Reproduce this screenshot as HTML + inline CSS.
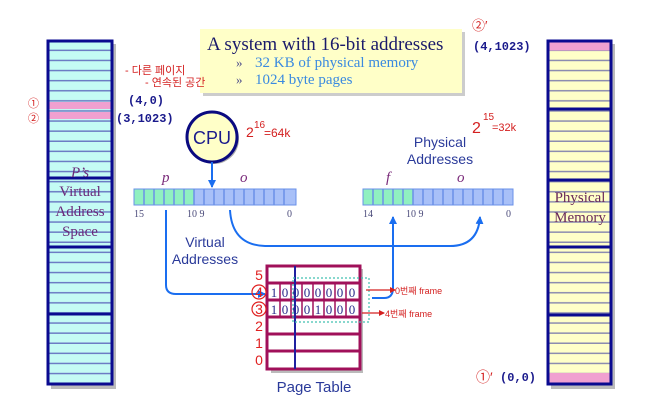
<!DOCTYPE html>
<html><head><meta charset="utf-8"><style>
body{margin:0;background:#fff;width:655px;height:406px;overflow:hidden}
svg{display:block}
.mono{font-family:"Liberation Mono",monospace;font-weight:bold;fill:#1a1a8c;font-size:12px}
.serif{font-family:"Liberation Serif",serif}
.sans{font-family:"Liberation Sans",sans-serif}
.red{font-family:"Liberation Sans","Noto Sans CJK KR",sans-serif;fill:#d42020}
</style></head><body>
<svg width="655" height="406" viewBox="0 0 655 406" xmlns="http://www.w3.org/2000/svg">
<defs>
<pattern id="pc" x="0" y="41" width="10" height="10.1" patternUnits="userSpaceOnUse">
<rect width="10" height="10.1" fill="#c4fbf4"/><rect y="8.6" width="10" height="1.5" fill="#6c7cc4"/></pattern>
<pattern id="py" x="0" y="41" width="10" height="10.1" patternUnits="userSpaceOnUse">
<rect width="10" height="10.1" fill="#ffffc8"/><rect y="8.6" width="10" height="1.5" fill="#8c8cb0"/></pattern>
<marker id="ah" markerWidth="8" markerHeight="8" refX="7" refY="4" orient="auto" markerUnits="userSpaceOnUse"><path d="M0,0 L8,4 L0,8z" fill="#1a6ef0"/></marker>
<marker id="rh" markerWidth="6" markerHeight="6" refX="5" refY="3" orient="auto" markerUnits="userSpaceOnUse"><path d="M0,0 L6,3 L0,6z" fill="#d42020"/></marker>
</defs>

<!-- left bar -->
<rect x="51" y="44" width="65" height="345" fill="#bbb"/>
<rect x="48" y="41" width="64" height="343" fill="url(#pc)" stroke="#0a0a90" stroke-width="3"/>
<rect x="49.5" y="102" width="61" height="7" fill="#f0a0d0"/>
<rect x="49.5" y="112" width="61" height="7" fill="#f0a0d0"/>
<g stroke="#0a0a90" stroke-width="3"><line x1="48" y1="178" x2="112" y2="178"/><line x1="48" y1="247" x2="112" y2="247"/><line x1="48" y1="314" x2="112" y2="314"/></g>
<g class="serif" fill="#6a2a7a" font-size="15" text-anchor="middle">
<text x="80" y="177" font-style="italic">P’s</text><text x="80" y="196">Virtual</text><text x="80" y="216">Address</text><text x="80" y="236">Space</text></g>

<!-- right bar -->
<rect x="551" y="44" width="64" height="345" fill="#bbb"/>
<rect x="548" y="41" width="63" height="343" fill="url(#py)" stroke="#0a0a90" stroke-width="3"/>
<rect x="549.5" y="42.5" width="60" height="8" fill="#f0a0d0"/>
<rect x="549.5" y="373" width="60" height="9.5" fill="#f0a0d0"/>
<g stroke="#0a0a90" stroke-width="3"><line x1="548" y1="109" x2="611" y2="109"/><line x1="548" y1="180" x2="611" y2="180"/><line x1="548" y1="247" x2="611" y2="247"/><line x1="548" y1="315" x2="611" y2="315"/></g>
<g class="serif" fill="#6a2a5a" font-size="15" text-anchor="middle">
<text x="580" y="202">Physical</text><text x="580" y="222">Memory</text></g>

<!-- title box -->
<rect x="203" y="32" width="262" height="64" fill="#ccc"/>
<rect x="200" y="29" width="262" height="64" fill="#ffffc8"/>
<text x="207" y="50" class="serif" font-size="19" fill="#1a1a6a">A system with 16-bit addresses</text>
<text x="236" y="67" class="serif" font-size="13" fill="#4a4a8a">»</text>
<text x="255" y="67" class="serif" font-size="15" fill="#3a8ae0">32 KB of physical memory</text>
<text x="236" y="84" class="serif" font-size="13" fill="#4a4a8a">»</text>
<text x="255" y="84" class="serif" font-size="15" fill="#3a8ae0">1024 byte pages</text>

<!-- coords -->
<text x="128" y="104" class="mono">(4,0)</text>
<text x="116" y="122" class="mono">(3,1023)</text>
<text x="473" y="50" class="mono">(4,1023)</text>
<text x="500" y="381" class="mono" font-size="11">(0,0)</text>

<!-- handwriting -->
<text x="125" y="74" class="red" font-size="11">- 다른 페이지</text>
<text x="145" y="86" class="red" font-size="11">- 연속된 공간</text>
<text x="28" y="107" class="red" font-size="11">①</text>
<text x="28" y="122" class="red" font-size="11">②</text>
<text x="246" y="137" class="red" font-size="14">2</text><text x="254" y="128" class="red" font-size="10">16</text><text x="264" y="137" class="red" font-size="12">=64k</text>
<text x="472" y="133" class="red" font-size="16">2</text><text x="483" y="120" class="red" font-size="10">15</text><text x="492" y="131" class="red" font-size="11">=32k</text>
<text x="472" y="30" class="red" font-size="13">②′</text>
<text x="476" y="382" class="red" font-size="14">①′</text>
<text x="395" y="294" class="red" font-size="9">0번째 frame</text>
<text x="385" y="317" class="red" font-size="9">4번째 frame</text>

<!-- CPU -->
<circle cx="214" cy="139" r="25" fill="#aaa"/>
<circle cx="212" cy="137" r="25" fill="#ffffc8" stroke="#0a0a80" stroke-width="3"/>
<text x="212" y="144" class="sans" font-size="18" text-anchor="middle" fill="#1a1a8c">CPU</text>
<line x1="212" y1="162" x2="212" y2="187" stroke="#1a6ef0" stroke-width="2" marker-end="url(#ah)"/>

<!-- virtual bar -->
<rect x="134" y="189" width="162" height="16" fill="#a8c0f8" stroke="#6a90e8"/>
<rect x="134" y="189" width="60" height="16" fill="#90f0c0" stroke="#6a90e8"/>
<g stroke="#6a90e8" stroke-width="1.5">
<line x1="144" y1="189" x2="144" y2="205"/><line x1="154" y1="189" x2="154" y2="205"/><line x1="164" y1="189" x2="164" y2="205"/><line x1="174" y1="189" x2="174" y2="205"/><line x1="184" y1="189" x2="184" y2="205"/><line x1="194" y1="189" x2="194" y2="205"/><line x1="204" y1="189" x2="204" y2="205"/><line x1="214" y1="189" x2="214" y2="205"/><line x1="224" y1="189" x2="224" y2="205"/><line x1="234" y1="189" x2="234" y2="205"/><line x1="244" y1="189" x2="244" y2="205"/><line x1="254" y1="189" x2="254" y2="205"/><line x1="264" y1="189" x2="264" y2="205"/><line x1="274" y1="189" x2="274" y2="205"/><line x1="284" y1="189" x2="284" y2="205"/></g>
<g class="serif" font-size="10" fill="#4a4a7a"><text x="134" y="217">15</text><text x="187" y="217">10 9</text><text x="287" y="217">0</text></g>
<g class="serif" font-size="15" font-style="italic" fill="#7a2a7a"><text x="162" y="182">p</text><text x="240" y="182">o</text></g>
<text x="205" y="247" class="sans" font-size="14" text-anchor="middle" fill="#2a3a9a">Virtual</text>
<text x="205" y="264" class="sans" font-size="14" text-anchor="middle" fill="#2a3a9a">Addresses</text>

<!-- physical bar -->
<rect x="363" y="189" width="150" height="16" fill="#a8c0f8" stroke="#6a90e8"/>
<rect x="363" y="189" width="50" height="16" fill="#90f0c0" stroke="#6a90e8"/>
<g stroke="#6a90e8" stroke-width="1.5">
<line x1="373" y1="189" x2="373" y2="205"/><line x1="383" y1="189" x2="383" y2="205"/><line x1="393" y1="189" x2="393" y2="205"/><line x1="403" y1="189" x2="403" y2="205"/><line x1="413" y1="189" x2="413" y2="205"/><line x1="423" y1="189" x2="423" y2="205"/><line x1="433" y1="189" x2="433" y2="205"/><line x1="443" y1="189" x2="443" y2="205"/><line x1="453" y1="189" x2="453" y2="205"/><line x1="463" y1="189" x2="463" y2="205"/><line x1="473" y1="189" x2="473" y2="205"/><line x1="483" y1="189" x2="483" y2="205"/><line x1="493" y1="189" x2="493" y2="205"/><line x1="503" y1="189" x2="503" y2="205"/></g>
<g class="serif" font-size="10" fill="#4a4a7a"><text x="363" y="217">14</text><text x="406" y="217">10 9</text><text x="506" y="217">0</text></g>
<g class="serif" font-size="15" font-style="italic" fill="#7a2a7a"><text x="386" y="182">f</text><text x="457" y="182">o</text></g>
<text x="440" y="147" class="sans" font-size="14" text-anchor="middle" fill="#2a3a9a">Physical</text>
<text x="440" y="164" class="sans" font-size="14" text-anchor="middle" fill="#2a3a9a">Addresses</text>

<!-- arrows -->
<path d="M166,210 L166,285 Q166,294 176,294 L265,294" fill="none" stroke="#1a6ef0" stroke-width="2" marker-end="url(#ah)"/>
<path d="M230,210 Q232,245 265,246 L450,246 Q478,246 480,217" fill="none" stroke="#1a6ef0" stroke-width="2" marker-end="url(#ah)"/>
<path d="M372,298 L384,298 Q393,298 393,288 L393,217" fill="none" stroke="#1a6ef0" stroke-width="2" marker-end="url(#ah)"/>

<!-- page table -->
<rect x="271" y="269" width="92" height="104" fill="#bbb"/>
<rect x="267" y="266" width="93" height="103" fill="#fff" stroke="#a0105a" stroke-width="3"/>
<g stroke="#a0105a" stroke-width="3"><line x1="267" y1="283" x2="360" y2="283"/><line x1="267" y1="300" x2="360" y2="300"/><line x1="267" y1="317" x2="360" y2="317"/><line x1="267" y1="334" x2="360" y2="334"/><line x1="267" y1="351" x2="360" y2="351"/></g>
<g stroke="#a0105a" stroke-width="1.5"><line x1="280" y1="283" x2="280" y2="317"/><line x1="291" y1="283" x2="291" y2="317"/><line x1="302" y1="283" x2="302" y2="317"/><line x1="313" y1="283" x2="313" y2="317"/><line x1="324" y1="283" x2="324" y2="317"/><line x1="335" y1="283" x2="335" y2="317"/><line x1="346" y1="283" x2="346" y2="317"/></g>
<line x1="295" y1="266" x2="295" y2="369" stroke="#2020a0" stroke-width="2"/>
<rect x="293" y="278" width="76" height="44" fill="none" stroke="#40c0b0" stroke-width="1.2" stroke-dasharray="2,2"/>
<g class="serif" font-size="13" fill="#2a2a8a" text-anchor="middle">
<text x="274" y="297">1</text><text x="285" y="297">0</text><text x="296" y="297">0</text><text x="307" y="297">0</text><text x="318" y="297">0</text><text x="329" y="297">0</text><text x="340" y="297">0</text><text x="352" y="297">0</text>
<text x="274" y="314">1</text><text x="285" y="314">0</text><text x="296" y="314">0</text><text x="307" y="314">0</text><text x="318" y="314">1</text><text x="329" y="314">0</text><text x="340" y="314">0</text><text x="352" y="314">0</text></g>
<g class="sans" font-size="14" fill="#e02020" text-anchor="middle">
<text x="259" y="280">5</text><text x="259" y="297">4</text><text x="259" y="314">3</text><text x="259" y="331">2</text><text x="259" y="348">1</text><text x="259" y="365">0</text></g>
<circle cx="259" cy="292" r="7" fill="none" stroke="#e02020" stroke-width="1.2"/>
<circle cx="259" cy="309" r="7" fill="none" stroke="#e02020" stroke-width="1.2"/>
<line x1="366" y1="290" x2="395" y2="290" stroke="#d42020" stroke-width="1.3" marker-end="url(#rh)"/>
<line x1="362" y1="313" x2="384" y2="313" stroke="#d42020" stroke-width="1.3" marker-end="url(#rh)"/>
<text x="314" y="392" class="sans" font-size="15" text-anchor="middle" fill="#2a3a9a">Page Table</text>
</svg>
</body></html>
